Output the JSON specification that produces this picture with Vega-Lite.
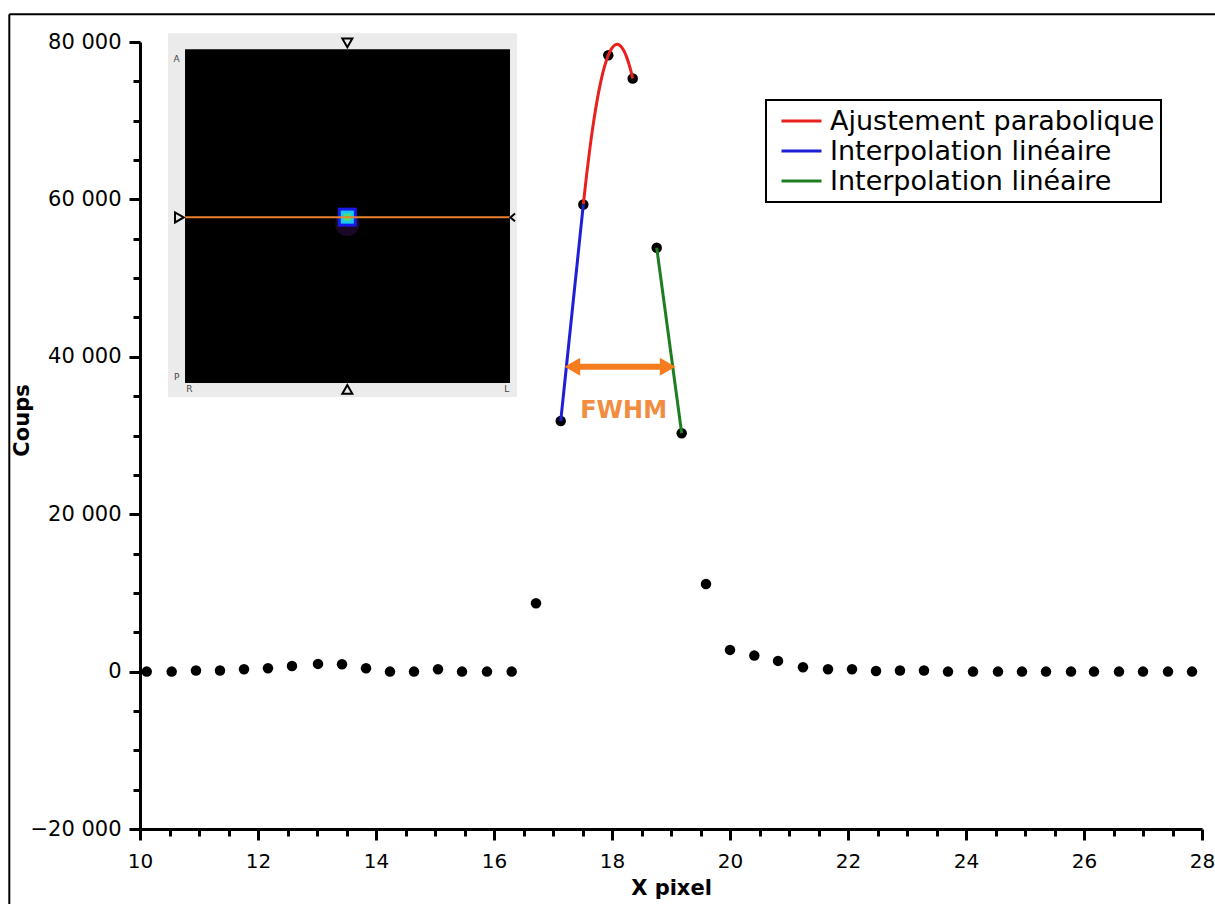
{
  "$schema": "https://vega.github.io/schema/vega-lite/v6.json",
  "width": 1062,
  "height": 787,
  "autosize": {"type": "none"},
  "padding": {"left": 140, "top": 42, "right": 13, "bottom": 75},
  "background": "white",
  "config": {"view": {"stroke": null}, "font": "DejaVu Sans"},
  "datasets": {
    "points": [
      {"x": 10.114, "y": 0}, {"x": 10.537, "y": 0}, {"x": 10.949, "y": 130}, {"x": 11.356, "y": 130},
      {"x": 11.763, "y": 300}, {"x": 12.169, "y": 425}, {"x": 12.576, "y": 720}, {"x": 13.017, "y": 980},
      {"x": 13.424, "y": 935}, {"x": 13.831, "y": 425}, {"x": 14.237, "y": 0}, {"x": 14.644, "y": 0},
      {"x": 15.051, "y": 300}, {"x": 15.458, "y": 0}, {"x": 15.881, "y": 0}, {"x": 16.3, "y": 0},
      {"x": 16.712, "y": 8690}, {"x": 17.131, "y": 31840}, {"x": 17.514, "y": 59360}, {"x": 17.937, "y": 78320},
      {"x": 18.351, "y": 75360}, {"x": 18.758, "y": 53850}, {"x": 19.181, "y": 30280}, {"x": 19.593, "y": 11140},
      {"x": 20.0, "y": 2756}, {"x": 20.412, "y": 2032}, {"x": 20.814, "y": 1359}, {"x": 21.237, "y": 550},
      {"x": 21.661, "y": 300}, {"x": 22.068, "y": 300}, {"x": 22.475, "y": 85}, {"x": 22.881, "y": 130},
      {"x": 23.288, "y": 130}, {"x": 23.695, "y": 0}, {"x": 24.119, "y": 0}, {"x": 24.542, "y": 0},
      {"x": 24.949, "y": 0}, {"x": 25.356, "y": 0}, {"x": 25.78, "y": 0}, {"x": 26.169, "y": 0},
      {"x": 26.593, "y": 0}, {"x": 27.0, "y": 0}, {"x": 27.424, "y": 0}, {"x": 27.831, "y": 0}
    ],
    "fits": [
      {"series": "a", "x": 17.514, "y": 59360}, {"series": "a", "x": 17.57, "y": 63144},
      {"series": "a", "x": 17.63, "y": 66768}, {"series": "a", "x": 17.69, "y": 69946},
      {"series": "a", "x": 17.75, "y": 72677}, {"series": "a", "x": 17.81, "y": 74961},
      {"series": "a", "x": 17.87, "y": 76797}, {"series": "a", "x": 17.937, "y": 78320},
      {"series": "a", "x": 17.99, "y": 79130}, {"series": "a", "x": 18.05, "y": 79625},
      {"series": "a", "x": 18.09, "y": 79706}, {"series": "a", "x": 18.13, "y": 79589},
      {"series": "a", "x": 18.19, "y": 79041}, {"series": "a", "x": 18.25, "y": 78046},
      {"series": "a", "x": 18.31, "y": 76604}, {"series": "a", "x": 18.351, "y": 75360},
      {"series": "b", "x": 17.131, "y": 31840}, {"series": "b", "x": 17.514, "y": 59360},
      {"series": "c", "x": 18.758, "y": 53850}, {"series": "c", "x": 19.181, "y": 30280}
    ],
    "arrow": [{"x": 17.33, "x2": 18.94, "y": 38735}],
    "arrowHeadL": [{"x": 17.328, "y": 38735}],
    "arrowHeadR": [{"x": 18.944, "y": 38735}],
    "label": [{"x": 18.197, "y": 33150, "t": "FWHM"}],
    "insetBg": [{"x": 10.475, "x2": 16.39, "y": 81110, "y2": 34890}],
    "insetImg": [{"x": 10.763, "x2": 16.271, "y": 79070, "y2": 36670}],
    "insetLine": [{"x": 10.763, "x2": 16.271, "y": 57747}],
    "blobHaze": [{"x": 13.514, "y": 56900}],
    "blob": [{"x": 13.514, "y": 57747}],
    "markDown": [{"x": 13.514, "y": 79880}],
    "markUp": [{"x": 13.514, "y": 35860}],
    "markRight": [{"x": 10.667, "y": 57710}],
    "markLeft": [{"x": 16.317, "y": 57710}],
    "letters": [
      {"x": 10.622, "y": 77900, "t": "A"}, {"x": 10.622, "y": 37460, "t": "P"},
      {"x": 10.836, "y": 35860, "t": "R"}, {"x": 16.215, "y": 35860, "t": "L"}
    ],
    "frameTop": [{"x": 7.785, "x2": 30.5, "y": 83528}],
    "frameLeft": [{"x": 7.785, "y": 83528, "y2": -32000}]
  },
  "encoding": {
    "x": {
      "field": "x", "type": "quantitative",
      "scale": {"domain": [10, 28], "nice": false, "zero": false},
      "axis": {
        "title": "X pixel",
        "values": [10, 10.5, 11, 11.5, 12, 12.5, 13, 13.5, 14, 14.5, 15, 15.5, 16, 16.5, 17, 17.5, 18, 18.5, 19, 19.5, 20, 20.5, 21, 21.5, 22, 22.5, 23, 23.5, 24, 24.5, 25, 25.5, 26, 26.5, 27, 27.5, 28],
        "labelExpr": "datum.value % 2 === 0 ? format(datum.value, 'd') : ''",
        "tickSize": {"condition": {"test": "datum.value % 2 === 0", "value": 11}, "value": 7},
        "tickWidth": 3, "tickColor": "black",
        "domainColor": "black", "domainWidth": 3,
        "labelFontSize": 20, "labelColor": "black", "labelPadding": 11,
        "labelOverlap": false, "labelFlush": false, "labelBound": false,
        "titleFontSize": 21, "titleFontWeight": "bold", "titleColor": "black", "titlePadding": 6,
        "grid": false
      }
    },
    "y": {
      "field": "y", "type": "quantitative",
      "scale": {"domain": [-20000, 80000], "nice": false, "zero": false},
      "axis": {
        "title": "Coups",
        "values": [-20000, -15000, -10000, -5000, 0, 5000, 10000, 15000, 20000, 25000, 30000, 35000, 40000, 45000, 50000, 55000, 60000, 65000, 70000, 75000, 80000],
        "labelExpr": "datum.value % 20000 === 0 ? replace(format(datum.value, ','), ',', ' ') : ''",
        "tickSize": {"condition": {"test": "datum.value % 20000 === 0", "value": 11}, "value": 7},
        "tickWidth": 3, "tickColor": "black",
        "domainColor": "black", "domainWidth": 3,
        "labelFontSize": 21, "labelColor": "black", "labelPadding": 8,
        "labelOverlap": false, "labelFlush": false, "labelBound": false,
        "titleFontSize": 21, "titleFontWeight": "bold", "titleColor": "black",
        "titleX": -118, "titleY": 378, "titleBaseline": "middle", "titleAlign": "center", "titleAngle": 270,
        "grid": false
      }
    }
  },
  "layer": [
    {"data": {"name": "frameTop"}, "mark": {"type": "rule", "color": "black", "strokeWidth": 2, "clip": false}, "encoding": {"x2": {"field": "x2"}}},
    {"data": {"name": "frameLeft"}, "mark": {"type": "rule", "color": "black", "strokeWidth": 2, "clip": false}, "encoding": {"y2": {"field": "y2"}}},
    {"data": {"name": "insetBg"}, "mark": {"type": "rect", "color": "#ebebeb"}, "encoding": {"x2": {"field": "x2"}, "y2": {"field": "y2"}}},
    {"data": {"name": "insetImg"}, "mark": {"type": "rect", "color": "#000000"}, "encoding": {"x2": {"field": "x2"}, "y2": {"field": "y2"}}},
    {"data": {"name": "blobHaze"}, "mark": {"type": "point", "shape": "circle", "filled": true, "color": "#5a1a80", "opacity": 0.3, "size": 600}},
    {"data": {"name": "blob"}, "mark": {"type": "point", "shape": "square", "filled": true, "color": "#1a1ae8", "opacity": 1, "size": 360, "cornerRadius": 4}},
    {"data": {"name": "blob"}, "mark": {"type": "point", "shape": "square", "filled": true, "color": "#18c8f0", "opacity": 1, "size": 170}},
    {"data": {"name": "blob"}, "mark": {"type": "point", "shape": "square", "filled": true, "color": "#4ce070", "opacity": 1, "size": 50}},
    {"data": {"name": "insetLine"}, "mark": {"type": "rule", "color": "#e8822e", "strokeWidth": 2}, "encoding": {"x2": {"field": "x2"}}},
    {"data": {"name": "markDown"}, "mark": {"type": "point", "shape": "triangle-down", "filled": false, "color": "black", "strokeWidth": 2, "size": 100, "opacity": 1}},
    {"data": {"name": "markUp"}, "mark": {"type": "point", "shape": "triangle-up", "filled": false, "color": "black", "strokeWidth": 2, "size": 100, "opacity": 1}},
    {"data": {"name": "markRight"}, "mark": {"type": "point", "shape": "triangle-right", "filled": false, "color": "black", "strokeWidth": 2, "size": 100, "opacity": 1}},
    {"data": {"name": "markLeft"}, "mark": {"type": "point", "shape": "M0.6,-1L-0.6,0L0.6,1", "filled": false, "color": "black", "strokeWidth": 2, "size": 60, "opacity": 1}},
    {"data": {"name": "letters"}, "mark": {"type": "text", "fontSize": 9, "color": "#444444", "align": "center", "baseline": "middle"}, "encoding": {"text": {"field": "t"}}},
    {"data": {"name": "points"}, "mark": {"type": "point", "filled": true, "color": "black", "opacity": 1, "size": 110, "shape": "circle"}},
    {
      "data": {"name": "fits"},
      "mark": {"type": "line", "strokeWidth": 3, "interpolate": "monotone"},
      "encoding": {
        "color": {
          "field": "series", "type": "nominal",
          "scale": {"domain": ["a", "b", "c"], "range": ["#e8201e", "#1f1fd6", "#1f7d21"]},
          "legend": {
            "orient": "none", "legendX": 626, "legendY": 58, "title": null,
            "symbolType": "stroke", "symbolSize": 900, "symbolStrokeWidth": 3,
            "labelFontSize": 27, "labelColor": "black", "labelLimit": 800,
            "labelExpr": "datum.value === 'a' ? 'Ajustement parabolique' : 'Interpolation linéaire'",
            "strokeColor": "black", "fillColor": "white", "padding": 6, "rowPadding": 0,
            "clipHeight": 30,
            "labelOffset": 7, "symbolOffset": 8,
            "encode": {
              "legend": {"update": {"strokeWidth": {"value": 2}}},
              "symbols": {"update": {"size": {"value": 1600}, "strokeWidth": {"value": 3}, "y": {"value": 15}}},
              "labels": {"update": {"y": {"value": 16}}}
            }
          }
        }
      }
    },
    {"data": {"name": "arrow"}, "mark": {"type": "rule", "color": "#f57c1f", "strokeWidth": 6}, "encoding": {"x2": {"field": "x2"}}},
    {"data": {"name": "arrowHeadL"}, "mark": {"type": "point", "shape": "triangle-left", "filled": true, "color": "#f57c1f", "opacity": 1, "size": 330}},
    {"data": {"name": "arrowHeadR"}, "mark": {"type": "point", "shape": "triangle-right", "filled": true, "color": "#f57c1f", "opacity": 1, "size": 330}},
    {"data": {"name": "label"}, "mark": {"type": "text", "fontSize": 24, "fontWeight": "bold", "color": "#f28c3f", "align": "center", "baseline": "middle"}, "encoding": {"text": {"field": "t"}}}
  ]
}
